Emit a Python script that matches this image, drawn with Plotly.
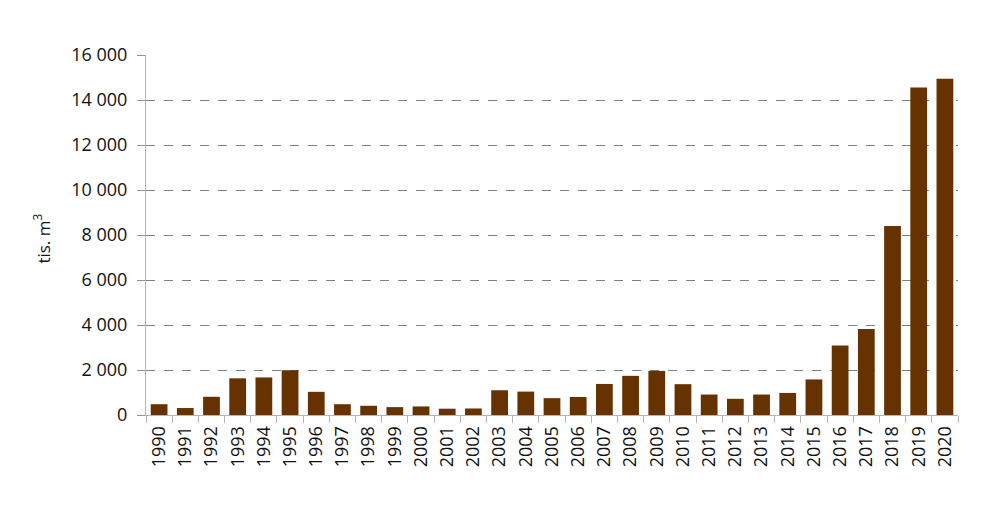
import plotly.graph_objects as go

years = [str(y) for y in range(1990, 2021)]
values = [480, 310, 810, 1630, 1670, 1990, 1030, 480, 410, 350, 380, 280, 290,
          1100, 1040, 750, 800, 1380, 1740, 1960, 1370, 910, 720, 910, 980,
          1580, 3090, 3820, 8400, 14560, 14950]
y_ticks = [0, 2000, 4000, 6000, 8000, 10000, 12000, 14000, 16000]

font = "Open Sans"

fig = go.Figure(go.Bar(
    x=years, y=values,
    marker=dict(color="#663300", line=dict(width=0)),
    width=0.64,
))

fig.update_layout(
    width=992, height=505,
    margin=dict(l=138, r=42, t=47, b=98, autoexpand=False),
    paper_bgcolor="white", plot_bgcolor="white",
    separators=", ",
    showlegend=False,
    font=dict(family=font, size=17, color="#111111"),
    bargap=0.36,
)

fig.update_xaxes(
    type="category",
    tickangle=-90,
    tickson="boundaries",
    ticks="outside", ticklen=7, tickcolor="#b5b5b5",
    ticklabelstandoff=3,
    showline=True, linecolor="#b5b5b5", linewidth=1,
    showgrid=False,
    tickfont=dict(family=font, size=18, color="#111111"),
)

fig.update_yaxes(
    range=[0, 16000],
    tickvals=y_ticks,
    tickformat=",d",
    ticks="outside", ticklen=8, tickcolor="#8a96a2",
    ticklabelstandoff=6,
    showline=True, linecolor="#b5b5b5", linewidth=1,
    showgrid=True, gridcolor="#75838f", griddash="dash", gridwidth=1,
    zeroline=False,
    tickfont=dict(family=font, size=18, color="#111111"),
)

fig.add_annotation(
    text="tis. m<sup>3</sup>",
    xref="paper", yref="paper", x=0, y=0.49,
    xshift=-104, xanchor="center", yanchor="middle",
    textangle=-90, showarrow=False,
    font=dict(family=font, size=17, color="#111111"),
)

fig.write_html("out.html")
